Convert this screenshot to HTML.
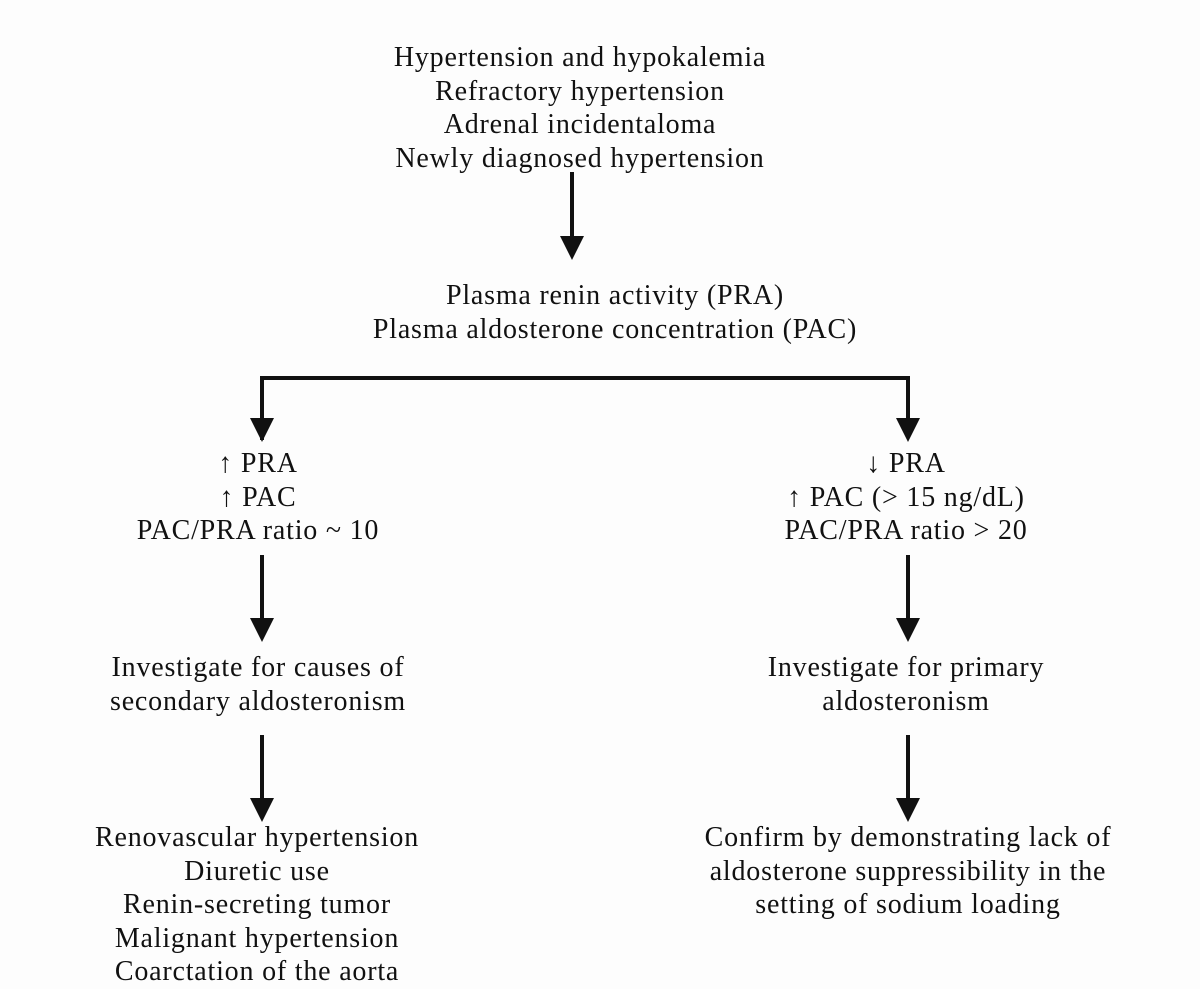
<!DOCTYPE html>
<html><head><style>
body{margin:0;width:1200px;height:981px;background:#fdfdfd;overflow:hidden;position:relative;font-family:"Liberation Serif",serif;color:#111;}
.t{position:absolute;text-align:center;font-size:28px;letter-spacing:0.8px;line-height:33.5px;white-space:nowrap;transform:translateX(-50%);}
svg{position:absolute;left:0;top:0}
</style></head><body>
<svg width="1200" height="981">
<g stroke="#111" stroke-width="4" fill="none">
<line x1="572" y1="172" x2="572" y2="240"/>
<polyline points="262,440 262,378 908,378 908,420"/>
<line x1="262" y1="555" x2="262" y2="620"/>
<line x1="908" y1="555" x2="908" y2="620"/>
<line x1="262" y1="735" x2="262" y2="800"/>
<line x1="908" y1="735" x2="908" y2="800"/>
</g>
<g fill="#111">
<polygon points="560,236 584,236 572,260"/>
<polygon points="250,418 274,418 262,442"/>
<polygon points="896,418 920,418 908,442"/>
<polygon points="250,618 274,618 262,642"/>
<polygon points="896,618 920,618 908,642"/>
<polygon points="250,798 274,798 262,822"/>
<polygon points="896,798 920,798 908,822"/>
</g>
</svg>
<div class="t" style="left:580px;top:41px">Hypertension and hypokalemia<br>Refractory hypertension<br>Adrenal incidentaloma<br>Newly diagnosed hypertension</div>
<div class="t" style="left:615px;top:279px">Plasma renin activity (PRA)<br>Plasma aldosterone concentration (PAC)</div>
<div class="t" style="left:258px;top:447px">↑ PRA<br>↑ PAC<br>PAC/PRA ratio ~ 10</div>
<div class="t" style="left:906px;top:447px">↓ PRA<br>↑ PAC (&gt; 15 ng/dL)<br>PAC/PRA ratio &gt; 20</div>
<div class="t" style="left:258px;top:651px">Investigate for causes of<br>secondary aldosteronism</div>
<div class="t" style="left:906px;top:651px">Investigate for primary<br>aldosteronism</div>
<div class="t" style="left:257px;top:821px">Renovascular hypertension<br>Diuretic use<br>Renin-secreting tumor<br>Malignant hypertension<br>Coarctation of the aorta</div>
<div class="t" style="left:908px;top:821px">Confirm by demonstrating lack of<br>aldosterone suppressibility in the<br>setting of sodium loading</div>
</body></html>
